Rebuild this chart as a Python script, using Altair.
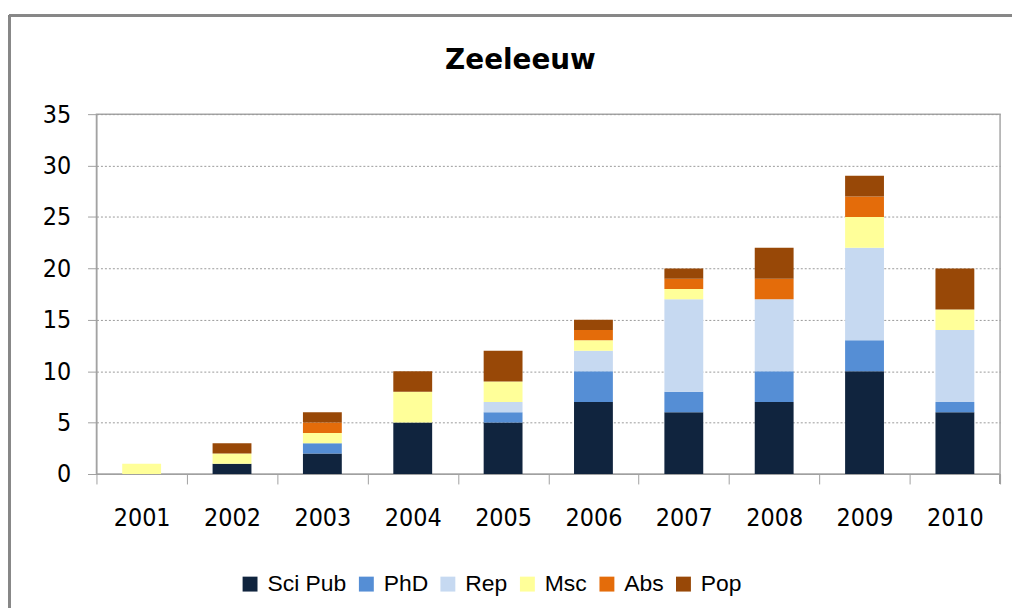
import altair as alt
import pandas as pd

years = ["2001", "2002", "2003", "2004", "2005", "2006", "2007", "2008", "2009", "2010"]
series = ["Sci Pub", "PhD", "Rep", "Msc", "Abs", "Pop"]
colors = ["#10243e", "#558ed5", "#c6d9f1", "#ffff99", "#e46c0a", "#984807"]

sci_pub = [0, 1, 2, 5, 5, 7, 6, 7, 10, 6]
phd = [0, 0, 1, 0, 1, 3, 2, 3, 3, 1]
rep = [0, 0, 0, 0, 1, 2, 9, 7, 9, 7]
msc = [1, 1, 1, 3, 2, 1, 1, 0, 3, 2]
abs_ = [0, 0, 1, 0, 0, 1, 1, 2, 2, 0]
pop = [0, 1, 1, 2, 3, 1, 1, 3, 2, 4]

values = [sci_pub, phd, rep, msc, abs_, pop]
rows = []
for si, (name, vals) in enumerate(zip(series, values)):
    for y, v in zip(years, vals):
        rows.append({"Year": y, "Series": name, "Order": si, "Value": v})
df = pd.DataFrame(rows)

W, H = 909, 362
LABEL_FONT = "DejaVu Sans Condensed, Liberation Sans, sans-serif"

bars = alt.Chart(df).mark_bar(width={"band": 0.43}).encode(
    x=alt.X("Year:N", sort=years,
            scale=alt.Scale(paddingInner=0, paddingOuter=0),
            axis=alt.Axis(title=None, labelAngle=0, tickBand="extent",
                          tickSize=10, tickColor="#a0a0a0", domainColor="#a0a0a0",
                          labelFont=LABEL_FONT, labelFontSize=25, labelColor="#000000",
                          labelPadding=22, grid=False)),
    y=alt.Y("sum(Value):Q", stack="zero",
            scale=alt.Scale(domain=[0, 35]),
            axis=alt.Axis(title=None, values=[0, 5, 10, 15, 20, 25, 30, 35],
                          tickSize=9, tickColor="#a0a0a0", domainColor="#a0a0a0",
                          labelFont=LABEL_FONT, labelFontSize=25, labelColor="#000000",
                          labelPadding=17, grid=True, gridColor="#9a9a9a",
                          gridDash=[2, 2], gridWidth=1)),
    color=alt.Color("Series:N", sort=series,
                    scale=alt.Scale(domain=series, range=colors),
                    legend=alt.Legend(title=None, orient="none", direction="horizontal",
                                      legendX=143, legendY=461, padding=0,
                                      symbolType="square", symbolSize=225,
                                      symbolStrokeWidth=0, symbolOpacity=1,
                                      labelFont="Liberation Sans, sans-serif",
                                      labelFontSize=23, labelColor="#000000",
                                      labelOffset=6, columnPadding=8)),
    order=alt.Order("Order:Q", sort="ascending"),
)

frame_left = alt.Chart(df).mark_rule(color="#878787", strokeWidth=2.5).encode(
    x=alt.value(-88), y=alt.value(-99), y2=alt.value(H + 140))
frame_top = alt.Chart(df).mark_rule(color="#878787", strokeWidth=2.5).encode(
    x=alt.value(-88), x2=alt.value(W + 40), y=alt.value(-99))
right_tick = alt.Chart(df).mark_rule(color="#a0a0a0", strokeWidth=1).encode(
    x=alt.value(W), y=alt.value(H), y2=alt.value(H + 10))

chart = alt.layer(frame_left, frame_top, right_tick, bars).properties(
    width=W, height=H,
    title=alt.Title("Zeeleeuw", font="DejaVu Sans, sans-serif", fontSize=28,
                    fontWeight="bold", color="#000000", anchor="middle",
                    frame="group", baseline="alphabetic", dx=-28, offset=-83),
    autosize=alt.AutoSizeParams(type="none"),
    padding={"left": 89, "top": 105, "right": 12, "bottom": 133},
).configure_view(stroke="#a6a6a6", strokeWidth=1.5)

chart.save("out.html", embed_options={"renderer": "svg", "actions": False})
